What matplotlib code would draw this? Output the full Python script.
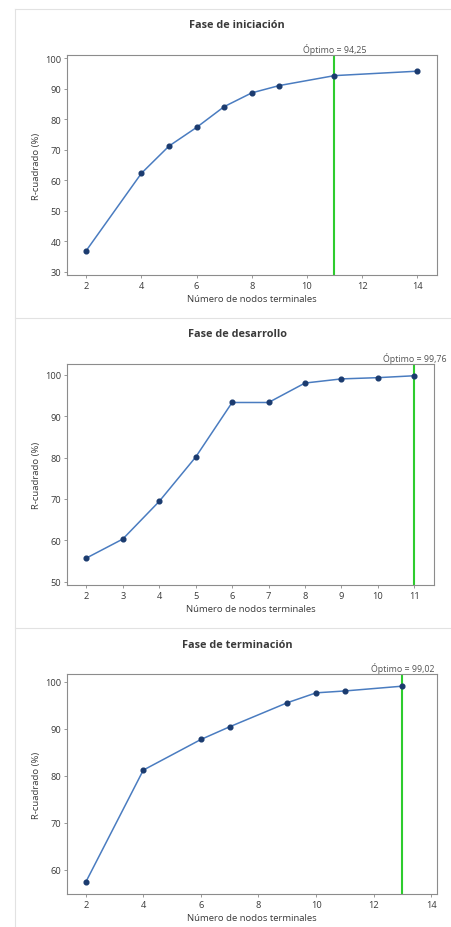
import matplotlib
matplotlib.use("Agg")
import matplotlib.pyplot as plt
from matplotlib.lines import Line2D

plt.rcParams["font.family"] = ["Open Sans", "DejaVu Sans"]

# Fase de iniciación
x_ini = [2, 4, 5, 6, 7, 8, 9, 11, 14]
y_ini = [37.0, 62.3, 71.2, 77.3, 84.1, 88.6, 91.0, 94.25, 95.7]
opt_ini = (11, "94,25")

# Fase de desarrollo
x_des = [2, 3, 4, 5, 6, 7, 8, 9, 10, 11]
y_des = [55.7, 60.3, 69.4, 80.1, 93.3, 93.3, 98.0, 99.0, 99.3, 99.76]
opt_des = (11, "99,76")

# Fase de terminación
x_ter = [2, 4, 6, 7, 9, 10, 11, 13]
y_ter = [57.4, 81.2, 87.7, 90.4, 95.5, 97.6, 98.0, 99.02]
opt_ter = (13, "99,02")

W, H = 451, 928
fig = plt.figure(figsize=(W / 100, H / 100), dpi=100)
fig.patch.set_facecolor("white")

text_col = "#3a3a3a"
line_col = "#4a7cc0"
mark_col = "#1b3b6f"
green = "#2ecc2e"

panels = [
    # title, x, y, opt, axes box px (l, t, r, b), xlim, ylim, xticks, yticks, panel top
    ("Fase de iniciación", x_ini, y_ini, opt_ini, (67, 56, 437, 276),
     (1.3, 14.72), (29.0, 101.0), [2, 4, 6, 8, 10, 12, 14],
     list(range(30, 101, 10)), 10),
    ("Fase de desarrollo", x_des, y_des, opt_des, (67, 365, 434, 586),
     (1.47, 11.54), (49.2, 102.6), list(range(2, 12)),
     list(range(50, 101, 10)), 319),
    ("Fase de terminación", x_ter, y_ter, opt_ter, (67, 675, 437, 895),
     (1.35, 14.2), (54.9, 101.6), [2, 4, 6, 8, 10, 12, 14],
     list(range(60, 101, 10)), 629),
]

# light frame lines between panels
fig.add_artist(Line2D([15 / W, 15 / W], [0, 1 - 10 / H], color="#e2e2e2", lw=0.8))
for _, _, _, _, _, _, _, _, _, top in panels:
    fig.add_artist(Line2D([15 / W, 1], [1 - top / H] * 2, color="#e2e2e2", lw=0.8))

for title, xs, ys, opt, box, xlim, ylim, xt, yt, top in panels:
    l, t, r, b = box
    ax = fig.add_axes([l / W, 1 - b / H, (r - l) / W, (b - t) / H])
    ax.plot(xs, ys, color=line_col, lw=1.1, zorder=3)
    ax.plot(xs, ys, "o", color=mark_col, ms=3.4, zorder=4)
    ax.axvline(opt[0], color=green, lw=1.5, zorder=2)
    ax.set_xlim(*xlim)
    ax.set_ylim(*ylim)
    ax.set_xticks(xt)
    ax.set_yticks(yt)
    ax.tick_params(labelsize=6.7, colors=text_col, length=2, width=0.6,
                   pad=2, color="#888888")
    for sp in ax.spines.values():
        sp.set_color("#8c8c8c")
        sp.set_linewidth(0.8)
    ax.set_xlabel("Número de nodos terminales", fontsize=6.8, color=text_col,
                  labelpad=3)
    ax.set_ylabel("R-cuadrado (%)", fontsize=6.8, color=text_col, labelpad=3)
    ax.text(opt[0], 1.005, f"Óptimo = {opt[1]}", transform=ax.get_xaxis_transform(),
            ha="center", va="bottom", fontsize=6.4, color="#555555")
    fig.text(237 / W, 1 - (top + 16) / H, title, ha="center", va="center",
             fontsize=7.8, fontweight="bold", color=text_col)

fig.savefig("out.png", dpi=100, facecolor="white")
